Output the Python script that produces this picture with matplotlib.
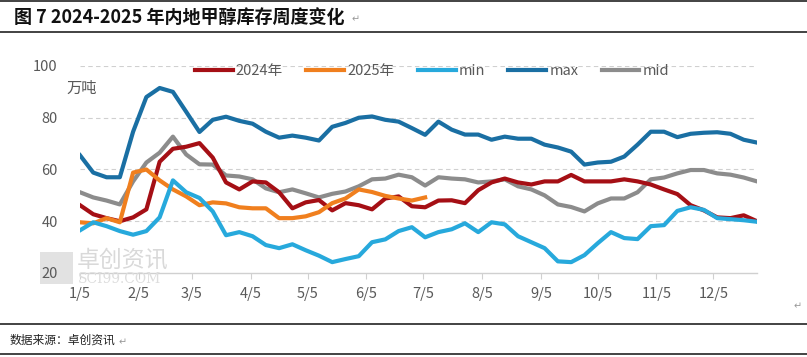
import matplotlib
matplotlib.use('Agg')
import matplotlib.pyplot as plt
from matplotlib.lines import Line2D
from matplotlib.patches import Rectangle
import pandas as pd

plt.rcParams['font.family'] = ['Noto Sans CJK SC', 'DejaVu Sans']

# 周度数据，x 轴按 1/5 起每周一个点
dates = pd.date_range('2025-01-05', periods=52, freq='7D')

y2024 = [46.2, 42.7, 41.2, 40.0, 41.5, 44.6, 63.0, 68.0, 68.8, 70.2,
         64.6, 55.0, 52.3, 55.4, 55.0, 51.2, 45.0, 47.3, 48.2, 44.2,
         47.0, 46.2, 44.6, 48.8, 49.6, 45.8, 45.4, 48.0, 48.1, 47.0,
         52.0, 55.0, 56.5, 55.0, 54.2, 55.4, 55.4, 57.9, 55.4, 55.4,
         55.4, 56.2, 55.4, 54.2, 52.3, 50.5, 46.2, 44.2, 41.5, 41.2,
         42.3, 40.0]
y2025 = [39.6, 39.2, 41.2, 39.6, 58.8, 60.0, 55.8, 52.3, 49.6, 46.2,
         47.3, 46.9, 45.4, 45.0, 45.0, 41.2, 41.2, 41.9, 43.5, 47.0,
         48.8, 52.3, 51.3, 49.8, 48.8, 48.0, 49.2]
y_min = [36.5, 39.6, 38.1, 36.2, 34.8, 36.2, 41.5, 55.8, 51.2, 49.0,
         43.8, 34.6, 35.8, 34.2, 30.8, 29.6, 31.1, 28.8, 26.7, 24.2,
         25.4, 26.5, 31.9, 33.0, 36.2, 37.7, 33.8, 35.8, 36.9, 39.2,
         35.8, 39.6, 38.8, 34.2, 31.9, 29.6, 24.5, 24.2, 26.9, 31.5,
         35.8, 33.5, 33.1, 38.1, 38.5, 44.0, 45.4, 44.4, 41.2, 40.8,
         40.4, 39.8]
y_max = [65.5, 58.8, 57.0, 57.0, 74.6, 88.0, 91.5, 90.0, 82.3, 74.5,
         79.2, 80.4, 78.8, 77.7, 74.6, 72.3, 73.1, 72.3, 71.2, 76.5,
         78.0, 80.0, 80.5, 79.2, 78.5, 76.0, 73.4, 78.5, 75.4, 73.5,
         73.5, 71.5, 72.7, 71.9, 71.9, 69.6, 68.5, 66.9, 61.9, 62.7,
         63.0, 65.0, 69.6, 74.6, 74.6, 72.5, 73.8, 74.2, 74.4, 73.8,
         71.5, 70.4]
y_mid = [51.2, 49.2, 48.0, 46.5, 55.4, 62.7, 66.5, 72.7, 65.8, 62.0,
         61.9, 57.7, 57.3, 56.2, 52.7, 51.2, 52.3, 50.8, 49.2, 50.6,
         51.5, 53.5, 56.2, 56.5, 58.0, 57.0, 53.8, 57.0, 56.5, 56.2,
         55.0, 55.4, 56.2, 53.5, 52.3, 50.0, 46.5, 45.5, 43.8, 46.9,
         48.8, 48.8, 51.2, 56.2, 56.9, 58.5, 59.8, 59.8, 58.5, 58.0,
         56.9, 55.4]

tick_dates = pd.date_range('2025-01-01', periods=12, freq='MS') + pd.Timedelta(days=4)
tick_labels = ['1/5', '2/5', '3/5', '4/5', '5/5', '6/5', '7/5', '8/5',
               '9/5', '10/5', '11/5', '12/5']
y_ticks = [20, 40, 60, 80, 100]

W, H = 807, 357
fig = plt.figure(figsize=(W / 100, H / 100), dpi=100)
ax = fig.add_axes([80 / W, 84 / H, 677 / W, 207 / H])

lw = 3.0
ax.plot(dates, y_max, color='#1a6fa3', lw=lw, label='max', zorder=3)
ax.plot(dates, y_mid, color='#8c8c8c', lw=lw, label='mid', zorder=3)
ax.plot(dates, y2024, color='#a50f15', lw=lw, label='2024年', zorder=4)
ax.plot(dates[:len(y2025)], y2025, color='#f07f1e', lw=lw, label='2025年', zorder=4)
ax.plot(dates, y_min, color='#27a9dc', lw=lw, label='min', zorder=5)

ax.set_xlim(dates[0], dates[-1])
ax.set_ylim(20, 100)
ax.set_yticks(y_ticks)
ax.set_xticks(tick_dates)
ax.set_xticklabels(tick_labels)
for v in y_ticks[1:]:
    ax.axhline(v, color='#d0d0d0', lw=0.8, ls=(0, (4, 3)), zorder=1)

for s in ['top', 'right', 'left']:
    ax.spines[s].set_visible(False)
ax.spines['bottom'].set_color('#d0d0d0')
ax.spines['bottom'].set_linewidth(1)
ax.tick_params(axis='y', length=0, pad=16, labelsize=10.5, labelcolor='#595959')
ax.tick_params(axis='x', length=4, width=0.8, color='#d0d0d0', pad=6,
               labelsize=10.5, labelcolor='#595959', direction='out')

handles, labels = ax.get_legend_handles_labels()
order = ['2024年', '2025年', 'min', 'max', 'mid']
hmap = dict(zip(labels, handles))
leg = fig.legend([hmap[k] for k in order], order, loc='center',
                 bbox_to_anchor=(432 / W, (H - 71) / H), ncol=5, frameon=False,
                 handlelength=2.6, handletextpad=0.2, columnspacing=1.6,
                 fontsize=10.5)
for t in leg.get_texts():
    t.set_color('#595959')

fig.text(66 / W, (H - 88) / H, '万吨', fontsize=11, color='#595959', va='center')

# 水印
fig.add_artist(Rectangle((40 / W, (H - 284) / H), 33 / W, 32 / H,
                         transform=fig.transFigure, color='#e2e2e2', lw=0, zorder=0))
fig.text(77 / W, (H - 260) / H, '卓创资讯', fontsize=16.5, color='#d9d9d9',
         va='center', zorder=0)
fig.text(78 / W, (H - 279) / H, 'SCI99.COM', fontsize=10, color='#dddddd',
         va='center', family='DejaVu Serif', zorder=0)

# 标题与表格线
fig.text(14 / W, (H - 17) / H, '图 7 2024-2025 年内地甲醇库存周度变化',
         fontsize=13, fontweight='bold', color='#111111', va='center')
fig.text(352 / W, (H - 19) / H, '↵', fontsize=7, color='#999999', va='center',
         family=['DejaVu Sans'])
fig.text(10 / W, (H - 340) / H, '数据来源：卓创资讯', fontsize=8.5,
         color='#222222', va='center')
fig.text(119 / W, (H - 342) / H, '↵', fontsize=7, color='#999999', va='center',
         family=['DejaVu Sans'])
fig.text(794 / W, (H - 306) / H, '↵', fontsize=7, color='#999999', va='center',
         family=['DejaVu Sans'])
for yy in [1, 32, 324, 354]:
    fig.add_artist(Line2D([0, 1], [(H - yy) / H] * 2, color='#222222', lw=1.2))

fig.savefig('out.png', dpi=100)
